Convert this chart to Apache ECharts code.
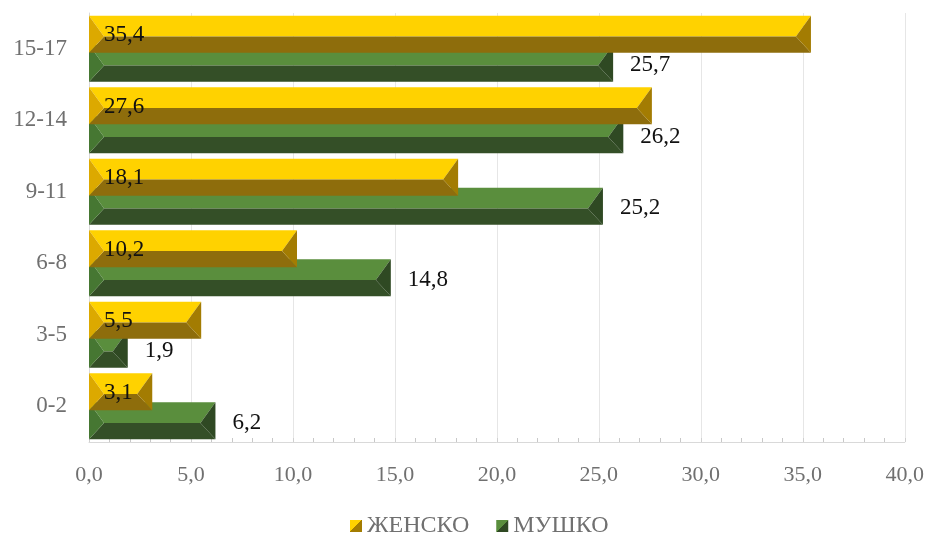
<!DOCTYPE html>
<html>
<head>
<meta charset="utf-8">
<script src="https://cdn.jsdelivr.net/npm/echarts@6/dist/echarts.min.js"></script>
<style>
  html, body { margin: 0; padding: 0; background: #fff; }
  #chart { width: 927px; height: 534px; }
</style>
</head>
<body>
<div id="chart"></div>
<script>
// Age groups, bottom to top
const categories = ['0-2', '3-5', '6-8', '9-11', '12-14', '15-17'];
// Percent by age group
const female = [3.1, 5.5, 10.2, 18.1, 27.6, 35.4];
const male = [6.2, 1.9, 14.8, 25.2, 26.2, 25.7];
const xTicks = { min: 0, max: 40, interval: 5 };

const FONT = '"Liberation Serif", "Times New Roman", serif';
const fmt = v => v.toFixed(1).replace('.', ',');

// Bevelled bar palettes: top face, bottom face, left cap, right cap
const palette = {
  f: { top: '#FFD200', bottom: '#8E6D0C', left: '#DCA900', right: '#A37C02' },
  m: { top: '#5A8E3D', bottom: '#344F27', left: '#467732', right: '#2F4923' }
};

function bevelBar(kind) {
  const c = palette[kind];
  return function (params, api) {
    const v = api.value(0);
    const ci = api.value(1);
    const p0 = api.coord([0, ci]);
    const p1 = api.coord([v, ci]);
    const band = api.size([0, 1])[1];
    const h = band * 0.515;
    const ov = band * 0.11;
    const span = 2 * h - ov;
    const top = kind === 'f' ? p0[1] - span / 2 : p0[1] - span / 2 + h - ov;
    const bottom = top + h;
    const split = top + h * 0.56;
    const x0 = p0[0], x1 = p1[0];
    const d = Math.min(15, (x1 - x0) / 2);
    const poly = (pts, fill) => ({ type: 'polygon', shape: { points: pts }, style: { fill: fill } });
    const children = [
      poly([[x0, top], [x1, top], [x1 - d, split], [x0 + d, split]], c.top),
      poly([[x0 + d, split], [x1 - d, split], [x1, bottom], [x0, bottom]], c.bottom),
      poly([[x0, top], [x0 + d, split], [x0, bottom]], c.left),
      poly([[x1, top], [x1 - d, split], [x1, bottom]], c.right)
    ];
    const label = kind === 'f'
      ? { x: x0 + 15, y: (top + bottom) / 2 + 1 }
      : { x: x1 + 17, y: (top + bottom) / 2 + 2 };
    children.push({
      type: 'text',
      z2: 10,
      style: {
        text: fmt(v), x: label.x, y: label.y,
        align: 'left', verticalAlign: 'middle',
        font: '23px ' + FONT, fill: '#111'
      }
    });
    return { type: 'group', children: children };
  };
}

const legendGrad = (a, b) => new echarts.graphic.LinearGradient(0, 0, 1, 1, [
  { offset: 0, color: a }, { offset: 0.5, color: a },
  { offset: 0.5, color: b }, { offset: 1, color: b }
]);

const chart = echarts.init(document.getElementById('chart'), null, { renderer: 'canvas' });
chart.setOption({
  animation: false,
  backgroundColor: '#ffffff',
  grid: { left: 89, right: 21, top: 13, bottom: 92 },
  legend: {
    data: ['ЖЕНСКО', 'МУШКО'],
    top: 509,
    left: 345,
    icon: 'rect',
    itemWidth: 12,
    itemHeight: 12,
    itemGap: 27,
    textStyle: { fontFamily: FONT, fontSize: 24, color: '#707070' }
  },
  xAxis: {
    type: 'value',
    min: xTicks.min, max: xTicks.max, interval: xTicks.interval,
    axisLine: { show: true, lineStyle: { color: '#D9D9D9', width: 1 } },
    axisTick: { show: true, inside: true, length: 4, lineStyle: { color: '#D0D0D0' } },
    minorTick: { show: true, splitNumber: 5, length: 4, lineStyle: { color: '#C8C8C8' } },
    splitLine: { show: true, lineStyle: { color: '#E6E6E6', width: 1 } },
    axisLabel: {
      formatter: v => fmt(v),
      margin: 22,
      fontFamily: FONT, fontSize: 22, color: '#707070'
    }
  },
  yAxis: {
    type: 'category',
    data: categories,
    axisLine: { show: true, lineStyle: { color: '#D9D9D9', width: 1 } },
    axisTick: { show: false },
    axisLabel: { margin: 22, fontFamily: FONT, fontSize: 23, color: '#707070' }
  },
  series: [
    {
      name: 'МУШКО',
      type: 'custom',
      renderItem: bevelBar('m'),
      encode: { x: 0, y: 1 },
      itemStyle: { color: legendGrad('#5A8E3D', '#2F4923') },
      data: male.map((v, i) => [v, i]),
      z: 2
    },
    {
      name: 'ЖЕНСКО',
      type: 'custom',
      renderItem: bevelBar('f'),
      encode: { x: 0, y: 1 },
      itemStyle: { color: legendGrad('#FFD200', '#A37C02') },
      data: female.map((v, i) => [v, i]),
      z: 3
    }
  ]
});
</script>
</body>
</html>
